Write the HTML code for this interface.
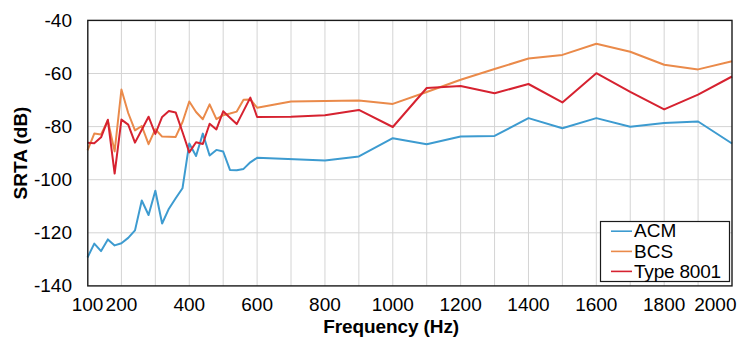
<!DOCTYPE html>
<html><head><meta charset="utf-8"><style>
html,body{margin:0;padding:0;background:#fff;}
body{width:744px;height:345px;overflow:hidden;}
svg{display:block;font-family:"Liberation Sans",sans-serif;}
</style></head><body>
<svg width="744" height="345" viewBox="0 0 744 345">
<rect x="0" y="0" width="744" height="345" fill="#fff"/>
<path d="M121.42 20.4V285.9M155.34 20.4V285.9M189.26 20.4V285.9M223.18 20.4V285.9M257.11 20.4V285.9M291.03 20.4V285.9M324.95 20.4V285.9M358.87 20.4V285.9M392.79 20.4V285.9M426.71 20.4V285.9M460.63 20.4V285.9M494.55 20.4V285.9M528.47 20.4V285.9M562.39 20.4V285.9M596.32 20.4V285.9M630.24 20.4V285.9M664.16 20.4V285.9M698.08 20.4V285.9M87.8 73.50H732.0M87.8 126.60H732.0M87.8 179.70H732.0M87.8 232.80H732.0" stroke="#d4d4d4" stroke-width="1" fill="none"/>
<polyline points="87.50,257.50 94.28,243.60 101.07,251.10 107.85,239.40 114.64,245.40 121.42,243.20 128.21,237.90 134.99,230.40 141.77,200.50 148.56,215.00 155.34,190.70 162.13,223.50 168.91,208.70 175.69,198.30 182.48,188.30 189.26,143.60 196.05,156.00 202.83,133.60 209.62,155.50 216.40,149.90 223.18,151.50 229.97,169.90 236.75,170.30 243.54,168.90 250.32,162.30 257.11,157.80 324.95,160.60 358.87,156.40 392.79,138.20 426.71,144.30 460.63,136.60 494.55,135.90 528.47,118.10 562.39,128.20 596.32,118.10 630.24,126.80 664.16,123.10 698.08,121.50 732.00,143.50" fill="none" stroke="#3d9bd0" stroke-width="2.0" stroke-linejoin="round" stroke-linecap="butt"/>
<polyline points="87.50,150.30 94.28,133.60 101.07,134.40 107.85,120.40 114.64,151.40 121.42,89.50 128.21,113.00 134.99,130.40 141.77,126.00 148.56,144.20 155.34,129.20 162.13,136.60 168.91,136.70 175.69,136.90 182.48,122.20 189.26,101.50 196.05,112.00 202.83,119.20 209.62,104.40 216.40,119.20 223.18,115.20 229.97,113.50 236.75,111.60 243.54,99.70 250.32,99.50 257.11,107.70 291.03,101.60 324.95,100.90 358.87,100.40 392.79,103.90 426.71,92.00 460.63,79.70 494.55,69.00 528.47,58.50 562.39,54.90 596.32,43.80 630.24,51.70 664.16,64.80 698.08,69.40 732.00,61.20" fill="none" stroke="#ea8a4a" stroke-width="2.0" stroke-linejoin="round" stroke-linecap="butt"/>
<polyline points="87.50,142.70 94.28,143.20 101.07,137.30 107.85,119.80 114.64,173.60 121.42,119.60 128.21,124.60 134.99,142.60 141.77,129.70 148.56,116.70 155.34,134.00 162.13,116.90 168.91,111.10 175.69,112.40 182.48,132.00 189.26,152.40 196.05,142.30 202.83,144.00 209.62,123.70 216.40,129.40 223.18,111.30 229.97,117.70 236.75,124.10 243.54,110.90 250.32,97.60 257.11,117.00 291.03,116.80 324.95,115.30 358.87,109.90 392.79,127.00 426.71,88.00 460.63,86.10 494.55,93.30 528.47,84.00 562.39,102.40 596.32,73.20 630.24,91.80 664.16,109.40 698.08,94.70 732.00,76.50" fill="none" stroke="#d62230" stroke-width="2.0" stroke-linejoin="round" stroke-linecap="butt"/>
<rect x="87.8" y="20.4" width="644.2" height="265.5" fill="none" stroke="#1a1a1a" stroke-width="1.4"/>
<g font-size="19" fill="#000"><text x="72" y="26.70" text-anchor="end">-40</text><text x="72" y="79.80" text-anchor="end">-60</text><text x="72" y="132.90" text-anchor="end">-80</text><text x="72" y="186.00" text-anchor="end">-100</text><text x="72" y="239.10" text-anchor="end">-120</text><text x="72" y="292.20" text-anchor="end">-140</text></g>
<g font-size="19" fill="#000"><text x="87.50" y="310.8" text-anchor="middle">100</text><text x="121.42" y="310.8" text-anchor="middle">200</text><text x="189.26" y="310.8" text-anchor="middle">400</text><text x="257.11" y="310.8" text-anchor="middle">600</text><text x="324.95" y="310.8" text-anchor="middle">800</text><text x="392.79" y="310.8" text-anchor="middle">1000</text><text x="460.63" y="310.8" text-anchor="middle">1200</text><text x="528.47" y="310.8" text-anchor="middle">1400</text><text x="596.32" y="310.8" text-anchor="middle">1600</text><text x="664.16" y="310.8" text-anchor="middle">1800</text><text x="736.5" y="310.8" text-anchor="end">2000</text></g>
<text transform="translate(27,153) rotate(-90)" text-anchor="middle" font-size="19" font-weight="bold">SRTA (dB)</text>
<text x="323.2" y="332.7" font-size="19" font-weight="bold" letter-spacing="-0.1">Frequency (Hz)</text>
<rect x="600.5" y="221.5" width="129" height="60" fill="#fff" stroke="#1a1a1a" stroke-width="1.2"/>
<line x1="611" y1="231.2" x2="632" y2="231.2" stroke="#3d9bd0" stroke-width="1.6"/>
<text x="634" y="237.3" font-size="19" letter-spacing="0">ACM</text>
<line x1="611" y1="251.4" x2="632" y2="251.4" stroke="#ea8a4a" stroke-width="1.6"/>
<text x="634" y="257.5" font-size="19" letter-spacing="0">BCS</text>
<line x1="611" y1="271.4" x2="632" y2="271.4" stroke="#d62230" stroke-width="1.6"/>
<text x="634" y="277.5" font-size="19" letter-spacing="-0.2">Type 8001</text>
</svg>
</body></html>
